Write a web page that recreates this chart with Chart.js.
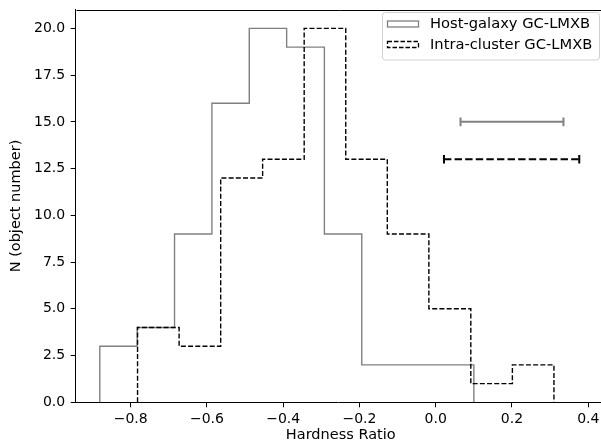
<!DOCTYPE html>
<html>
<head>
<meta charset="utf-8">
<script src="https://cdn.jsdelivr.net/npm/chart.js@4/dist/chart.umd.min.js"></script>
<style>
html,body{margin:0;padding:0;background:#fff;overflow:hidden;width:601px;height:446px;}
canvas{display:block;}
</style>
</head>
<body>
<canvas id="c" width="601" height="446"></canvas>
<script>
// ---- data ----
const hostEdges  = [-0.881,-0.783,-0.685,-0.587,-0.489,-0.391,-0.292,-0.194,-0.096,0.002,0.100];
const hostCounts = [3,4,9,16,20,19,9,2,2,2];
const icEdges    = [-0.782,-0.673,-0.564,-0.454,-0.345,-0.236,-0.127,-0.018,0.092,0.201,0.310];
const icCounts   = [4,3,12,13,20,13,9,5,1,2];
const hostErrCenter = 0.200, hostErrHalf = 0.135, hostErrY = 15;
const icErrCenter   = 0.199, icErrHalf   = 0.1774, icErrY  = 13;
const xTicks = [-0.8,-0.6,-0.4,-0.2,0.0,0.2,0.4];
const yTicks = [0,2.5,5,7.5,10,12.5,15,17.5,20];
const seriesLabels = ['Host-galaxy GC-LMXB','Intra-cluster GC-LMXB'];

function stepPoints(edges, counts){
  const pts = [{x:edges[0], y:0}];
  for (let i=0;i<counts.length;i++){
    pts.push({x:edges[i], y:counts[i]});
    pts.push({x:edges[i+1], y:counts[i]});
  }
  pts.push({x:edges[edges.length-1], y:0});
  return pts;
}

const FONT = 'DejaVu Sans';
const GRAY = '#808080';
// plot-area box (px) in the 601x446 canvas; the right spine lies just beyond the canvas edge
const AREA = {left:75.7, right:605.8, top:9.7, bottom:402.3};

const framePlugin = {
  id:'frame',
  afterLayout(chart){
    const a = chart.chartArea;
    a.left = AREA.left; a.right = AREA.right; a.top = AREA.top; a.bottom = AREA.bottom;
    a.width = a.right - a.left; a.height = a.bottom - a.top;
    const x = chart.scales.x, y = chart.scales.y;
    x.left = a.left; x.right = a.right; x.width = a.width;
    x.top = a.bottom; x.bottom = 446; x.height = 446 - a.bottom;
    x.configure();
    y.left = 0; y.right = a.left; y.width = a.left;
    y.top = a.top; y.bottom = a.bottom; y.height = a.height;
    y.configure();
  },
  afterDraw(chart){
    const {ctx, chartArea:a} = chart;
    ctx.save();
    ctx.strokeStyle = '#000';
    ctx.lineWidth = 1;
    ctx.setLineDash([]);
    ctx.beginPath();
    ctx.moveTo(Math.round(a.left)+0.5, Math.round(a.top)+0.5);
    ctx.lineTo(Math.round(a.right)+0.5, Math.round(a.top)+0.5);
    ctx.lineTo(Math.round(a.right)+0.5, Math.round(a.bottom)+0.5);
    ctx.stroke();
    // legend
    const lx = 382.5, ly = 12.5, lw = 217, lh = 47.5, r = 3;
    ctx.beginPath();
    ctx.moveTo(lx+r, ly);
    ctx.arcTo(lx+lw, ly, lx+lw, ly+lh, r);
    ctx.arcTo(lx+lw, ly+lh, lx, ly+lh, r);
    ctx.arcTo(lx, ly+lh, lx, ly, r);
    ctx.arcTo(lx, ly, lx+lw, ly, r);
    ctx.closePath();
    ctx.fillStyle = 'rgba(255,255,255,0.8)';
    ctx.fill();
    ctx.strokeStyle = '#d0d0d0';
    ctx.lineWidth = 1;
    ctx.stroke();
    // patches
    ctx.lineWidth = 1.3;
    ctx.strokeStyle = GRAY;
    ctx.strokeRect(387.5, 21, 31, 6);
    ctx.strokeStyle = '#000';
    ctx.setLineDash([4.5,2]);
    ctx.strokeRect(387.5, 41.5, 31, 6);
    ctx.setLineDash([]);
    ctx.fillStyle = '#000';
    ctx.font = '14.7px "' + FONT + '"';
    ctx.textBaseline = 'middle';
    ctx.textAlign = 'left';
    ctx.fillText(seriesLabels[0], 430, 24.5);
    ctx.fillText(seriesLabels[1], 430, 45);
    ctx.restore();
  }
};

const fmt = v => (Math.abs(v) < 1e-9 ? '0.0' : v.toFixed(1).replace('-', '\u2212'));
function noPad(s){ s.paddingTop = 0; s.paddingBottom = 0; s.paddingLeft = 0; s.paddingRight = 0; }

new Chart(document.getElementById('c'), {
  type:'line',
  data:{
    datasets:[
      {label:seriesLabels[0], data:stepPoints(hostEdges, hostCounts), borderColor:GRAY, borderWidth:1.4,
       pointRadius:0, tension:0, fill:false, order:1},
      {label:seriesLabels[1], data:stepPoints(icEdges, icCounts), borderColor:'#000', borderWidth:1.4,
       borderDash:[5,2.2], pointRadius:0, tension:0, fill:false, order:0},
      {label:'hostErr', data:[{x:hostErrCenter-hostErrHalf,y:hostErrY},{x:hostErrCenter+hostErrHalf,y:hostErrY}],
       borderColor:GRAY, borderWidth:2, pointStyle:'line', rotation:90, pointRadius:4.3,
       pointBorderColor:GRAY, pointBorderWidth:2, pointHoverRadius:4.3, order:3},
      {label:'icErr', data:[{x:icErrCenter-icErrHalf,y:icErrY},{x:icErrCenter+icErrHalf,y:icErrY}],
       borderColor:'#000', borderWidth:2, borderDash:[7.4,3.2], pointStyle:'line', rotation:90, pointRadius:4.3,
       pointBorderColor:'#000', pointBorderWidth:2, pointHoverRadius:4.3, order:2}
    ]
  },
  options:{
    responsive:false,
    animation:false,
    devicePixelRatio:1,
    layout:{padding:{top:9.7, right:0, left:0, bottom:0}},
    plugins:{legend:{display:false}, tooltip:{enabled:false}},
    scales:{
      x:{
        type:'linear', min:-0.9442, max:0.446,
        afterBuildTicks(s){ s.ticks = xTicks.map(v=>({value:v})); },
        afterFit(s){ s.height = 43.7; noPad(s); },
        grid:{drawOnChartArea:false, drawTicks:true, tickLength:5, color:'#000', lineWidth:1},
        border:{display:true, color:'#000', width:1},
        ticks:{color:'#000', padding:4, maxRotation:0, autoSkip:false, font:{family:FONT, size:14}, callback:v=>fmt(v)},
        title:{display:true, text:'Hardness Ratio', color:'#000', font:{family:FONT, size:14.5}, padding:{top:0,bottom:2}}
      },
      y:{
        type:'linear', min:0, max:21,
        afterBuildTicks(s){ s.ticks = yTicks.map(v=>({value:v})); },
        afterFit(s){ s.width = 75.7; noPad(s); },
        grid:{drawOnChartArea:false, drawTicks:true, tickLength:5, color:'#000', lineWidth:1},
        border:{display:true, color:'#000', width:1},
        ticks:{color:'#000', padding:5.5, autoSkip:false, font:{family:FONT, size:14}, callback:v=>v.toFixed(1)},
        title:{display:true, text:'N (object number)', color:'#000', font:{family:FONT, size:14.5}, padding:{top:8,bottom:0}}
      }
    }
  },
  plugins:[framePlugin]
});
</script>
</body>
</html>
